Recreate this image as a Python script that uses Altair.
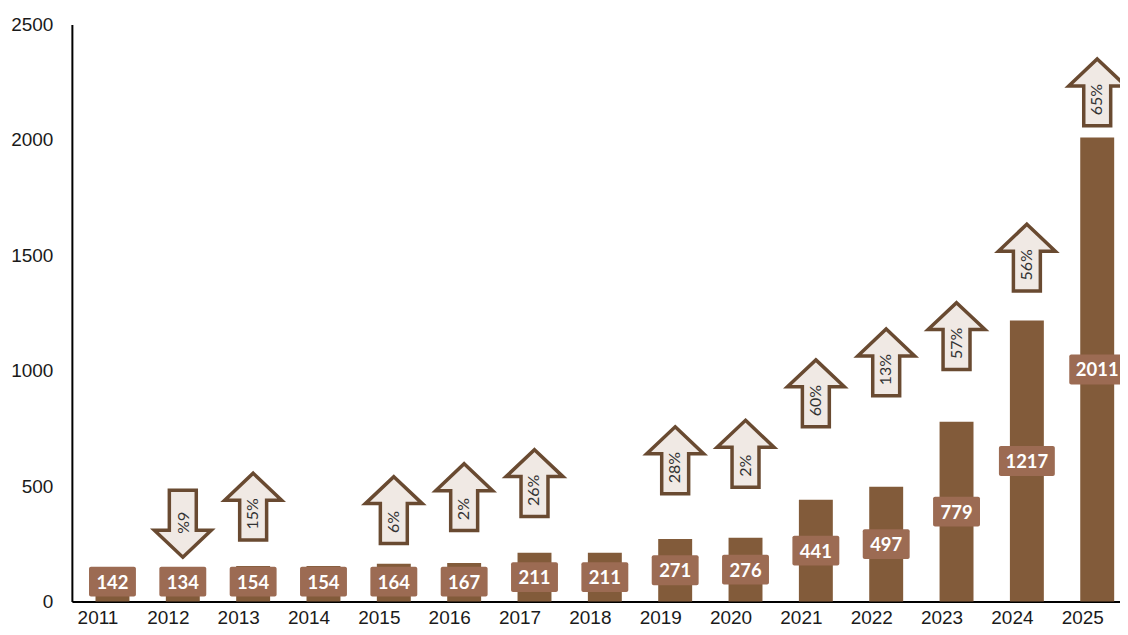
import altair as alt
import pandas as pd

# ---- data ----
years = [2011, 2012, 2013, 2014, 2015, 2016, 2017, 2018, 2019, 2020, 2021, 2022, 2023, 2024, 2025]
values = [142, 134, 154, 154, 164, 167, 211, 211, 271, 276, 441, 497, 779, 1217, 2011]
# year-over-year change shown in arrows (None = no arrow)
pct_change = [None, -6, 15, None, 6, 2, 26, None, 28, 2, 60, 13, 57, 56, 65]
# vertical level (in value units) of each arrow's centre
arrow_level = [None, 337, 411, None, 396, 452, 513, None, 612, 640, 902, 1036, 1150, 1490, 2206]
y_ticks = [0, 500, 1000, 1500, 2000, 2500]

BAR = "#825B3A"
BOX = "#9C6B53"
ARROW_STROKE = "#694A31"
ARROW_FILL = "#F0E9E4"
FONT = "Liberation Sans"

df = pd.DataFrame({"year": years, "value": values})
df["label"] = df["value"].astype(str)
df["label_y"] = (df["value"] / 2).clip(lower=86)
df["nchar"] = df["label"].str.len()

arr = pd.DataFrame({"year": years, "pct": pct_change, "level": arrow_level}).dropna()
arr["text"] = arr["pct"].abs().astype(int).astype(str) + "%"
arr["dir"] = ["up" if p > 0 else "down" for p in arr["pct"]]

xscale = alt.Scale(domain=[2010.494, 2025.253], nice=False, zero=False)
yscale = alt.Scale(domain=[0, 2500], nice=False, zero=True)

x_axis = alt.Axis(values=years, format="d", title=None, ticks=False, grid=False,
                  labelOffset=-15, labelPadding=7, labelFontSize=19, labelFont=FONT,
                  labelColor="#1a1a1a", domainColor="#000000", domainWidth=2,
                  labelFlush=False, labelOverlap=False)
y_axis = alt.Axis(values=y_ticks, format="d", title=None, ticks=False, grid=False,
                  labelPadding=19, labelFontSize=19, labelFont=FONT,
                  labelColor="#1a1a1a", domainColor="#000000", domainWidth=2,
                  labelFlush=False, labelOverlap=False)

X = alt.X("year:Q", scale=xscale, axis=x_axis)

bars = alt.Chart(df).mark_bar(color=BAR, size=34).encode(
    x=X, y=alt.Y("value:Q", scale=yscale, axis=y_axis)
)

def boxes(n, half):
    return alt.Chart(df).transform_filter(f"datum.nchar == {n}").mark_rect(
        color=BOX, cornerRadius=2, xOffset=-half, x2Offset=half, yOffset=-15, y2Offset=15
    ).encode(
        x=X, x2="year:Q",
        y=alt.Y("label_y:Q", scale=yscale, axis=y_axis), y2="label_y:Q"
    )

box_text = alt.Chart(df).mark_text(
    color="white", fontWeight="bold", fontSize=18.5, font="Lato", baseline="middle", dy=1
).encode(x=X, y=alt.Y("label_y:Q", scale=yscale, axis=y_axis), text="label:N")

UP = "M0,-1L0.851,-0.194L0.403,-0.194L0.403,1L-0.403,1L-0.403,-0.194L-0.851,-0.194Z"
DOWN = "M0,1L0.851,0.194L0.403,0.194L0.403,-1L-0.403,-1L-0.403,0.194L-0.851,0.194Z"

def arrows(d, shape):
    return alt.Chart(arr).transform_filter(f"datum.dir == '{d}'").mark_point(
        shape=shape, size=4489, filled=True, fill=ARROW_FILL, stroke=ARROW_STROKE,
        strokeWidth=3.5, opacity=1, fillOpacity=1, strokeOpacity=1
    ).encode(x=X, y=alt.Y("level:Q", scale=yscale, axis=y_axis))

up_text = alt.Chart(arr).transform_filter("datum.dir == 'up'").mark_text(
    angle=270, align="left", baseline="middle", fontSize=16, font="Lato",
    color="#333333", yOffset=23
).encode(x=X, y=alt.Y("level:Q", scale=yscale, axis=y_axis), text="text:N")

down_text = alt.Chart(arr).transform_filter("datum.dir == 'down'").mark_text(
    angle=90, align="center", baseline="middle", fontSize=16, font="Lato",
    color="#333333", yOffset=-1
).encode(x=X, y=alt.Y("level:Q", scale=yscale, axis=y_axis), text="text:N")

chart = alt.layer(
    bars, boxes(3, 23.5), boxes(4, 28), box_text,
    arrows("up", UP), arrows("down", DOWN), up_text, down_text
).properties(
    width=1050, height=578,
    background="white",
    autosize=alt.AutoSizeParams(type="none"),
    padding={"left": 64, "top": 16, "right": 0, "bottom": 25}
).configure_view(strokeWidth=0, stroke="transparent")

chart.save("out.html", embed_options={"renderer": "svg", "actions": False})
